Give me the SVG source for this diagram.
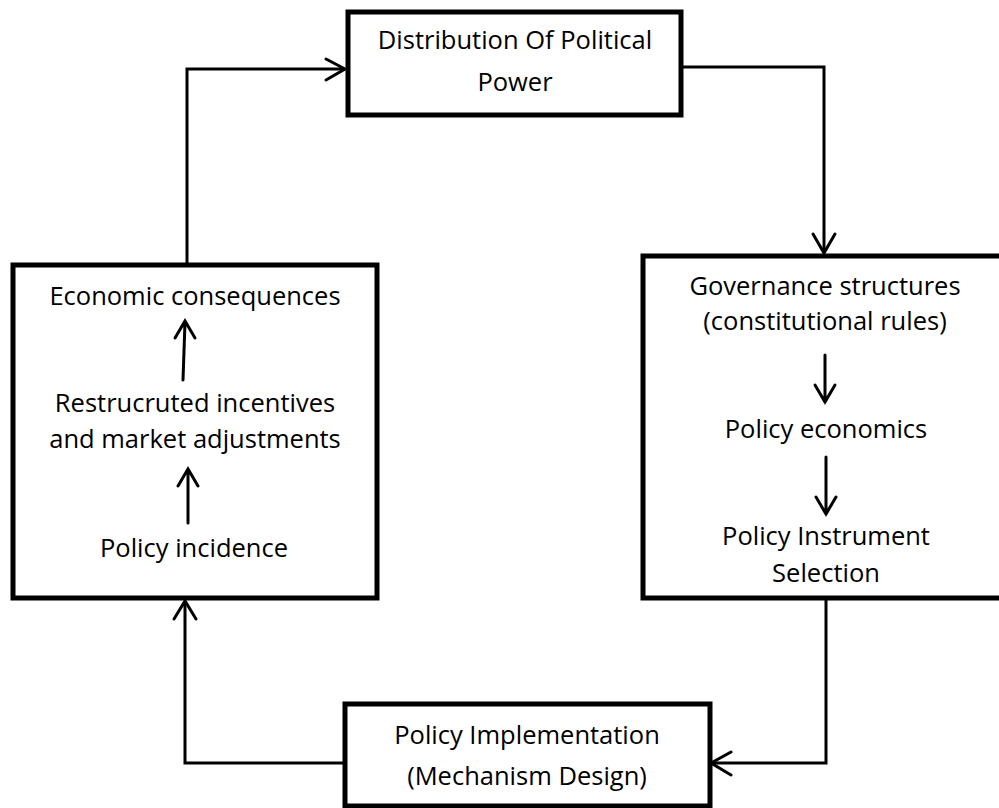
<svg xmlns="http://www.w3.org/2000/svg" width="999" height="808" viewBox="0 0 999 808">
  <style>
    .box { fill: #ffffff; stroke: #000000; stroke-width: 5; }
    .link { fill: none; stroke: #000000; stroke-width: 3; stroke-linejoin: miter; }
    .head { fill: none; stroke: #000000; stroke-width: 3; stroke-linecap: round; stroke-linejoin: miter; }
    .label { font-family: "Open Sans", "Liberation Sans", sans-serif; font-size: 25.5px; fill: #000000; text-anchor: middle; }
  </style>
  <rect width="999" height="808" fill="#ffffff"/>

  <!-- connectors between the four stages -->
  <g id="connectors">
    <!-- economic consequences back to political power -->
    <path class="link" d="M187,265 V69 H345"/>
    <path class="head" d="M326,59 L345,69 L326,80"/>
    <!-- political power down to governance -->
    <path class="link" d="M681,67 H824 V253"/>
    <path class="head" d="M813,234 L824,253 L835,234"/>
    <!-- instrument selection to implementation -->
    <path class="link" d="M826,598 V763 H711"/>
    <path class="head" d="M731,752 L711,763 L731,775"/>
    <!-- implementation up to policy incidence -->
    <path class="link" d="M345,763 H185 V601"/>
    <path class="head" d="M174,619 L185,601 L196,619"/>
  </g>

  <g id="node-power">
    <rect class="box" x="348" y="12" width="333" height="103"/>
    <text class="label" x="515" y="49">Distribution Of Political</text>
    <text class="label" x="515" y="91">Power</text>
  </g>

  <g id="node-governance">
    <rect class="box" x="643" y="256" width="370" height="342"/>
    <text class="label" x="825" y="295">Governance structures</text>
    <text class="label" x="825" y="330">(constitutional rules)</text>
    <path class="head" d="M825,355 V402 M815,385 L825,402 L835,385"/>
    <text class="label" x="826" y="438">Policy economics</text>
    <path class="head" d="M826,457 V514 M816,497 L826,514 L836,497"/>
    <text class="label" x="826" y="545">Policy Instrument</text>
    <text class="label" x="826" y="582">Selection</text>
  </g>

  <g id="node-outcomes">
    <rect class="box" x="13" y="265" width="364" height="333"/>
    <text class="label" x="195" y="305">Economic consequences</text>
    <path class="head" d="M183,380 L185,322 M175,338 L185,321 L195,338"/>
    <text class="label" x="195" y="412">Restrucruted incentives</text>
    <text class="label" x="195" y="448">and market adjustments</text>
    <path class="head" d="M188,523 V469 M178,486 L188,469 L198,486"/>
    <text class="label" x="194" y="557">Policy incidence</text>
  </g>

  <g id="node-implementation">
    <rect class="box" x="345" y="704" width="365" height="102"/>
    <text class="label" x="527" y="744">Policy Implementation</text>
    <text class="label" x="527" y="785">(Mechanism Design)</text>
  </g>
</svg>
